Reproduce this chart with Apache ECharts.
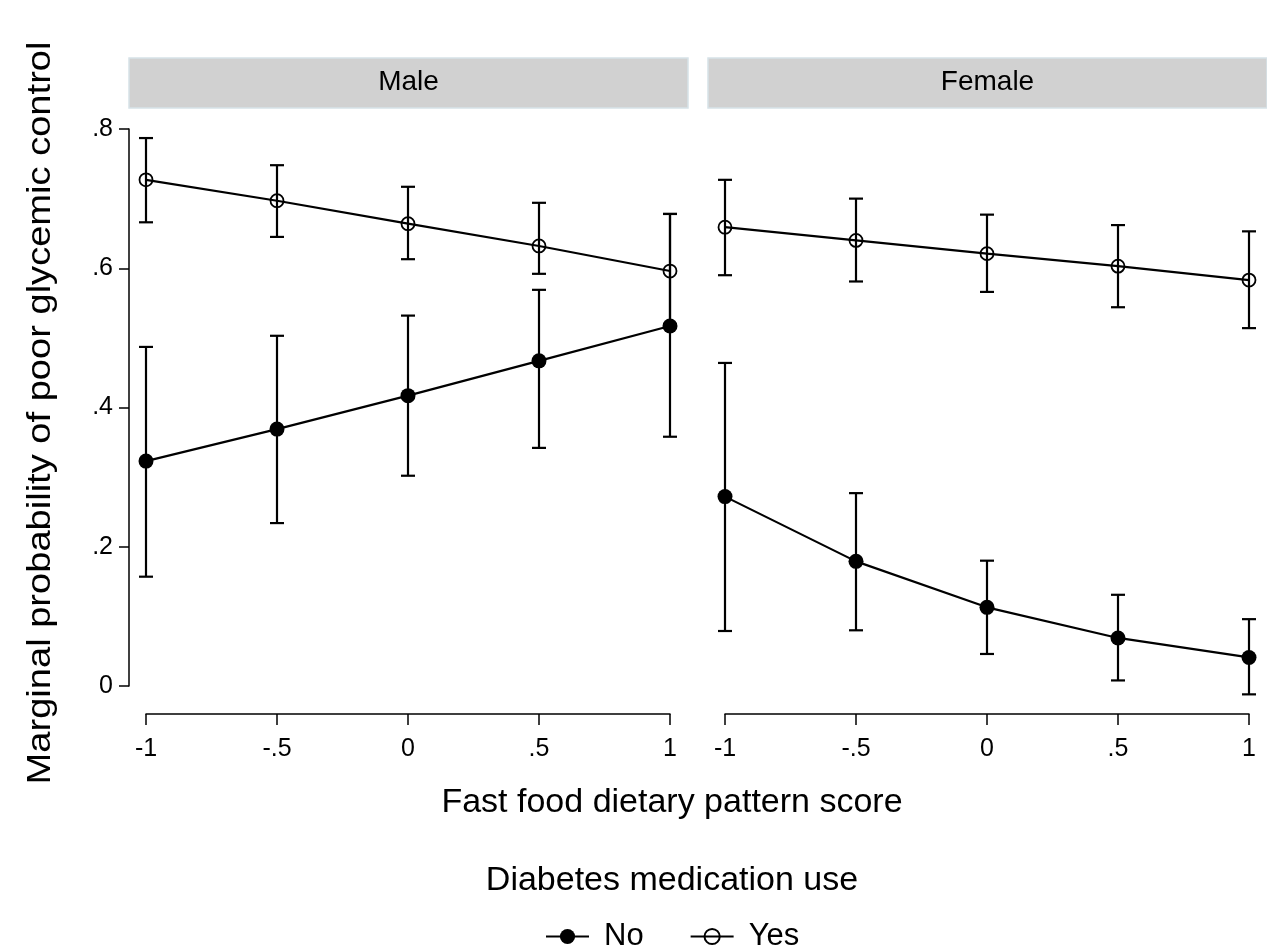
<!DOCTYPE html>
<html>
<head>
<meta charset="utf-8">
<script src="https://cdn.jsdelivr.net/npm/echarts@6/dist/echarts.min.js"></script>
<style>
html,body{margin:0;padding:0;background:#fff;}
#chart{width:1267px;height:952px;}
</style>
</head>
<body>
<div id="chart"></div>
<script>
// ---- data ----
const xVals = [-1, -0.5, 0, 0.5, 1];
const xTickLabels = ['-1', '-.5', '0', '.5', '1'];
const yTickValues = [0, 0.2, 0.4, 0.6, 0.8];
const yTickLabels = ['0', '.2', '.4', '.6', '.8'];
const panels = ['Male', 'Female'];
const groups = ['No', 'Yes'];

const maleNo     = [0.323, 0.369, 0.417, 0.467, 0.517];
const maleNoLo   = [0.157, 0.234, 0.302, 0.342, 0.358];
const maleNoHi   = [0.487, 0.503, 0.532, 0.569, 0.678];
const maleYes    = [0.727, 0.697, 0.664, 0.632, 0.596];
const maleYesLo  = [0.666, 0.645, 0.613, 0.592, 0.520];
const maleYesHi  = [0.787, 0.748, 0.717, 0.694, 0.678];

const femaleNo    = [0.272, 0.179, 0.113, 0.069, 0.041];
const femaleNoLo  = [0.079, 0.080, 0.046, 0.008, -0.012];
const femaleNoHi  = [0.464, 0.277, 0.180, 0.131, 0.096];
const femaleYes   = [0.659, 0.640, 0.621, 0.603, 0.583];
const femaleYesLo = [0.590, 0.581, 0.566, 0.544, 0.514];
const femaleYesHi = [0.727, 0.700, 0.677, 0.662, 0.653];

const panelData = [
  { No: [maleNo, maleNoLo, maleNoHi], Yes: [maleYes, maleYesLo, maleYesHi] },
  { No: [femaleNo, femaleNoLo, femaleNoHi], Yes: [femaleYes, femaleYesLo, femaleYesHi] }
];

// ---- layout ----
const FONT = 'Liberation Sans, Arial, sans-serif';
const gridLefts = [146, 725];
const gridW = 524, gridTop = 129, gridH = 557;

const chart = echarts.init(document.getElementById('chart'), null, {renderer: 'canvas'});

const grids = [], xAxes = [], yAxes = [], series = [];
panels.forEach((p, i) => {
  grids.push({left: gridLefts[i], top: gridTop, width: gridW, height: gridH, containLabel: false});
  xAxes.push({
    type: 'value', gridIndex: i, min: -1, max: 1, interval: 0.5, offset: 28,
    axisLine: {show: true, onZero: false, lineStyle: {color: '#000', width: 1.5}},
    axisTick: {show: true, length: 11, lineStyle: {color: '#000', width: 1.5}},
    axisLabel: {show: true, margin: 23, fontSize: 25, color: '#000', fontFamily: FONT,
      formatter: v => { const k = xVals.findIndex(t => Math.abs(t - v) < 1e-9); return k >= 0 ? xTickLabels[k] : ''; }},
    splitLine: {show: false}
  });
  yAxes.push({
    type: 'value', gridIndex: i, min: 0, max: 0.8, interval: 0.2, offset: 17,
    show: i === 0,
    axisLine: {show: true, onZero: false, lineStyle: {color: '#000', width: 1.5}},
    axisTick: {show: true, length: 10, lineStyle: {color: '#000', width: 1.5}},
    axisLabel: {show: true, margin: 16, fontSize: 25, color: '#000', fontFamily: FONT,
      formatter: v => { const k = yTickValues.findIndex(t => Math.abs(t - v) < 1e-9); return k >= 0 ? yTickLabels[k] : ''; }},
    splitLine: {show: false}
  });
  groups.forEach(g => {
    const [mid, lo, hi] = panelData[i][g];
    series.push({
      type: 'custom', xAxisIndex: i, yAxisIndex: i, clip: false, silent: true, z: 2,
      data: xVals.map((x, k) => [x, lo[k], hi[k]]),
      renderItem: (params, api) => {
        const x = api.value(0);
        const pLo = api.coord([x, api.value(1)]);
        const pHi = api.coord([x, api.value(2)]);
        const hw = 7;
        const st = {stroke: '#000', lineWidth: 2.2, fill: null};
        return {type: 'group', children: [
          {type: 'line', shape: {x1: pLo[0], y1: pLo[1], x2: pHi[0], y2: pHi[1]}, style: st},
          {type: 'line', shape: {x1: pLo[0] - hw, y1: pLo[1], x2: pLo[0] + hw, y2: pLo[1]}, style: st},
          {type: 'line', shape: {x1: pHi[0] - hw, y1: pHi[1], x2: pHi[0] + hw, y2: pHi[1]}, style: st}
        ]};
      }
    });
    series.push({
      name: g, type: 'line', xAxisIndex: i, yAxisIndex: i, clip: false, z: 3,
      data: xVals.map((x, k) => [x, mid[k]]),
      symbol: 'circle',
      symbolSize: g === 'No' ? 15 : 13,
      lineStyle: {color: '#000', width: 2.2},
      itemStyle: g === 'No'
        ? {color: '#000', borderColor: '#000', borderWidth: 0}
        : {color: 'rgba(0,0,0,0)', borderColor: '#000', borderWidth: 1.8},
      emphasis: {disabled: true},
      animation: false
    });
  });
});

const graphics = [];
panels.forEach((p, i) => {
  const left = i === 0 ? 129 : 708;
  graphics.push({type: 'rect', shape: {x: left, y: 58, width: 559, height: 50},
    style: {fill: '#d1d1d1', stroke: '#d6e2e8', lineWidth: 1.5}, z: 1});
  graphics.push({type: 'text', x: left + 279.5, y: 82, style: {text: p, fontSize: 28, fill: '#000',
    fontFamily: FONT, textAlign: 'center', textVerticalAlign: 'middle'}, z: 2});
});
graphics.push({type: 'text', x: 672, y: 803, style: {text: 'Fast food dietary pattern score', fontSize: 34,
  fill: '#000', fontFamily: FONT, textAlign: 'center', textVerticalAlign: 'middle'}});
graphics.push({type: 'text', x: 672, y: 881, style: {text: 'Diabetes medication use', fontSize: 34,
  fill: '#000', fontFamily: FONT, textAlign: 'center', textVerticalAlign: 'middle'}});
graphics.push({type: 'text', x: 41, y: 413, rotation: Math.PI / 2, scaleX: 1.12, scaleY: 1,
  style: {text: 'Marginal probability of poor glycemic control', fontSize: 34,
  fill: '#000', fontFamily: FONT, textAlign: 'center', textVerticalAlign: 'middle'}});

chart.setOption({
  animation: false,
  backgroundColor: '#fff',
  grid: grids, xAxis: xAxes, yAxis: yAxes, series: series,
  legend: {
    data: groups, left: 540, top: 916, itemWidth: 43, itemHeight: 19, itemGap: 46,
    textStyle: {fontSize: 31, color: '#000', fontFamily: FONT, padding: [0, 0, 0, 10]},
    selectedMode: false
  },
  graphic: graphics
});
</script>
</body>
</html>
